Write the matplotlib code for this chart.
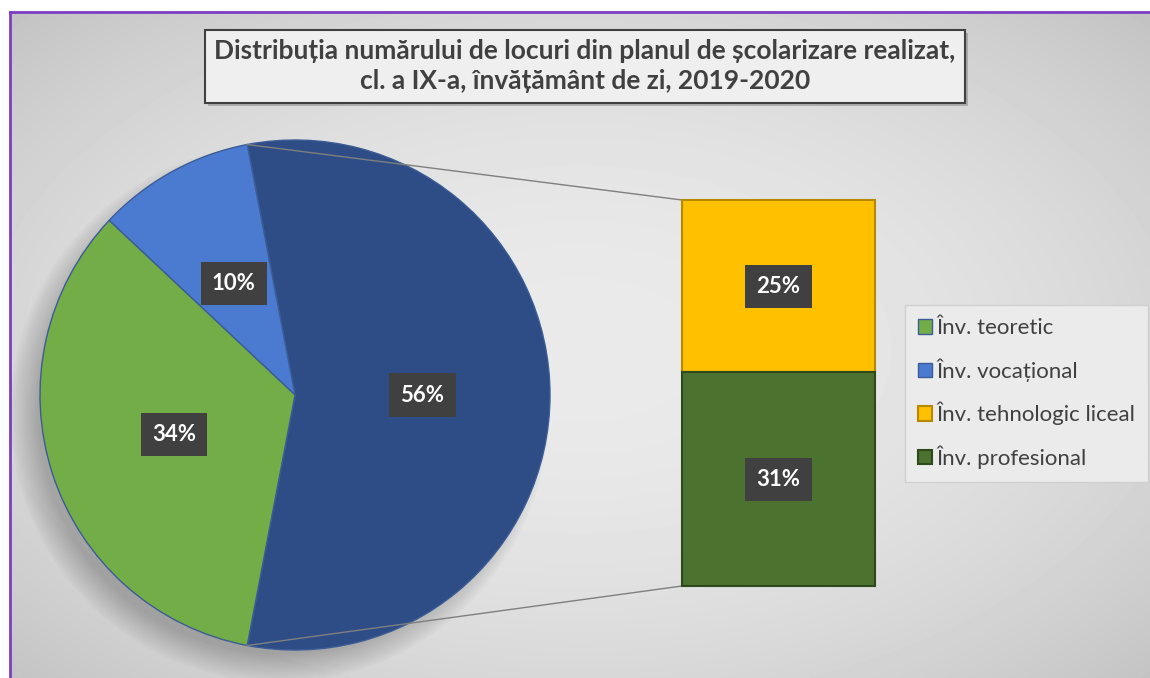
import numpy as np
import matplotlib.pyplot as plt
from matplotlib.patches import Rectangle, Circle

plt.rcParams['font.family'] = ['Lato', 'DejaVu Sans']

# data
pie_labels = ['Înv. teoretic', 'Înv. vocațional']
pie_values = [34, 10]
bar_labels = ['Înv. tehnologic liceal', 'Înv. profesional']
bar_values = [25, 31]
title = 'Distribuția numărului de locuri din planul de școlarizare realizat,\ncl. a IX-a, învățământ de zi, 2019-2020'

pie_colors = ['#72AD47', '#4A7BD0']
other_color = '#2E4D87'
bar_colors = ['#FFC000', '#4C722F']

W, H = 1150, 678
fig = plt.figure(figsize=(W / 100, H / 100), dpi=100)
ax = fig.add_axes([0, 0, 1, 1])


def Y(y):
    # image row -> axis y
    return H - y


# background gradient inside the chart area
xs = np.linspace(10, W, 300)
ys = np.linspace(12, H, 200)
gx, gy = np.meshgrid(xs, ys)
r2 = ((gx - 580) / 575) ** 2 + ((gy - 350) / 340) ** 2
grad = np.clip(234 - 20 * r2, 190, 240) / 255
ax.imshow(grad, extent=[10, W, Y(H), Y(12)], cmap='gray', vmin=0, vmax=1,
          aspect='auto', zorder=0, interpolation='bilinear')

# purple chart border (left and top)
ax.plot([9.5, 9.5], [Y(H), Y(12)], color='#7B3FBF', lw=2, zorder=1)
ax.plot([9.5, W], [Y(12), Y(12)], color='#7B3FBF', lw=2, zorder=1)

# pie
cx, cy, rad = 295, Y(395), 255
other = sum(bar_values)
values = [other] + pie_values[::-1]
colors = [other_color] + pie_colors[::-1]
start = -other / 2 * 3.6

# soft shadow under the pie
for i in range(12):
    ax.add_patch(Circle((cx - 16, cy - 18), rad + 14 - 2.5 * i,
                        color='black', alpha=0.02, lw=0, zorder=1))

label_box = dict(boxstyle='square,pad=0.5', facecolor='#404040', edgecolor='none')

wedges, texts, autotexts = ax.pie(
    values, colors=colors, startangle=start, counterclock=True,
    center=(cx, cy), radius=rad, frame=True, autopct='%.0f%%', pctdistance=0.5,
    wedgeprops=dict(edgecolor='#3B5C96', linewidth=1),
    textprops=dict(color='white', fontsize=16, fontweight='bold'))
for t in autotexts:
    t.set_bbox(label_box)
    t.set_zorder(5)

# bar of the "other" slice
bx0, bw = 682, 193
btop, bbot = Y(200), Y(586)
scale = (btop - bbot) / other
bottoms = [bbot + bar_values[1] * scale, bbot]
heights = [v * scale for v in bar_values]
bars = ax.bar([bx0 + bw / 2] * 2, heights, bottom=bottoms, width=bw,
              color=bar_colors, edgecolor=['#B58A00', '#2E4A1C'], linewidth=1.5, zorder=3)
for b, v in zip(bars, bar_values):
    t = ax.text(b.get_x() + b.get_width() / 2, b.get_y() + b.get_height() / 2, f'{v}%',
                ha='center', va='center', color='white', fontsize=16, fontweight='bold', zorder=5)
    t.set_bbox(label_box)

# connector lines
a1 = np.deg2rad(start + other * 3.6)
a2 = np.deg2rad(start)
ax.plot([cx + rad * np.cos(a1), bx0], [cy + rad * np.sin(a1), btop], color='#7F7F7F', lw=1, zorder=2)
ax.plot([cx + rad * np.cos(a2), bx0], [cy + rad * np.sin(a2), bbot], color='#7F7F7F', lw=1, zorder=2)

# title box
ax.add_patch(Rectangle((208, Y(106)), 760, 73, facecolor='#808080', alpha=0.5, lw=0, zorder=3))
ax.add_patch(Rectangle((205, Y(103)), 760, 73, facecolor='#EFEFEF', edgecolor='#404040', lw=1.5, zorder=4))
ax.text(585, Y(66), title, ha='center', va='center', fontsize=19, fontweight='bold',
        color='#404040', linespacing=1.3, zorder=5)

# legend
handles = [wedges[2], wedges[1], bars[0], bars[1]]
leg = ax.legend(handles, pie_labels + bar_labels, loc='upper left',
                bbox_to_anchor=(905, Y(305)), bbox_transform=ax.transData,
                borderaxespad=0, fontsize=16, labelspacing=0.9,
                handlelength=0.6, handleheight=0.6, handletextpad=0.2,
                borderpad=0.6, frameon=True, fancybox=False, labelcolor='#404040')
leg.get_frame().set_facecolor('#EBEBEB')
leg.get_frame().set_edgecolor('#D0D0D0')
leg.get_frame().set_alpha(1)

ax.set_xlim(0, W)
ax.set_ylim(0, H)
ax.set_aspect('auto')
ax.axis('off')

fig.savefig('out.png', dpi=100, facecolor='white')
